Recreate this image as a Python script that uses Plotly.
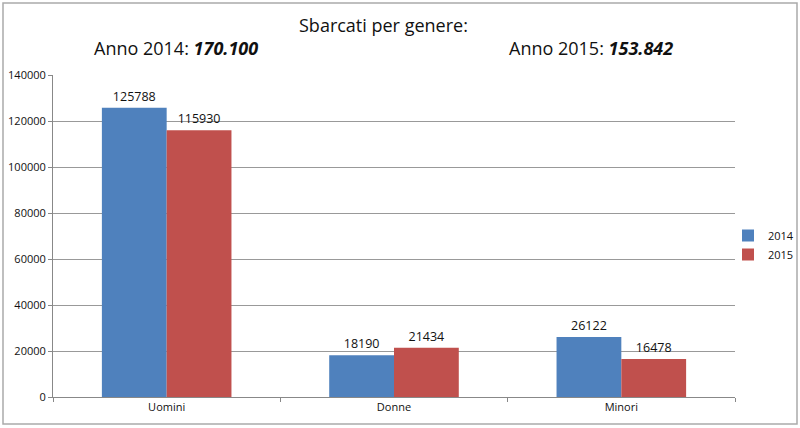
import plotly.graph_objects as go

categorie = ["Uomini", "Donne", "Minori"]
anni = ["2014", "2015"]
val_2014 = [125788, 18190, 26122]
val_2015 = [115930, 21434, 16478]
colori = ["#4F81BD", "#C0504D"]
y_ticks = [0, 20000, 40000, 60000, 80000, 100000, 120000, 140000]

fnt = "Open Sans, Noto Sans, sans-serif"

# plot area in pixels
L, R, T, B = 53, 65, 75, 31
W, H = 800, 428
pw, ph = W - L - R, H - T - B


def px(x):
    return (x - L) / pw


def py(y):
    return (H - B - y) / ph


fig = go.Figure()
for anno, vals, col in zip(anni, [val_2014, val_2015], colori):
    fig.add_trace(go.Bar(
        x=categorie, y=vals, name=anno,
        marker=dict(color=col, line=dict(width=0)),
        text=[str(v) for v in vals], textposition="outside",
        textfont=dict(size=12.5, color="#111"),
        cliponaxis=False,
    ))

titoli = [
    ("Sbarcati per genere:", 383, 25),
    ("Anno 2014: <b><i>170.100</i></b>", 176, 48),
    ("Anno 2015: <b><i>153.842</i></b>", 591, 48),
]

fig.update_layout(
    width=W, height=H,
    margin=dict(l=L, r=R, t=T, b=B, autoexpand=False),
    paper_bgcolor="white", plot_bgcolor="white",
    font=dict(family=fnt, color="#111"),
    barmode="group", bargap=0.43, bargroupgap=0,
    legend=dict(x=px(728), y=py(245), xanchor="left", yanchor="middle",
                bgcolor="rgba(0,0,0,0)",
                font=dict(size=11), itemwidth=30, tracegroupgap=4),
    xaxis=dict(showline=True, linecolor="#888", ticks="outside",
               tickson="boundaries", ticklen=4, tickcolor="#888",
               tickfont=dict(size=11), automargin=False),
    yaxis=dict(range=[0, 140000], tickvals=y_ticks, tickformat="d",
               showgrid=True, gridcolor="#999", showline=True,
               linecolor="#888", ticks="outside", ticklen=4,
               tickcolor="#888", tickfont=dict(size=11), zeroline=False,
               automargin=False),
    annotations=[
        dict(text=t, x=px(x), y=py(y), xref="paper", yref="paper",
             xanchor="center", yanchor="middle", showarrow=False,
             font=dict(size=18))
        for t, x, y in titoli
    ],
)

fig.add_shape(type="rect", xref="paper", yref="paper",
              x0=px(3), x1=px(797), y0=py(424), y1=py(3),
              line=dict(color="#aaa", width=1.5))

# drop the default page margin so the figure sits at the top-left corner
fig.write_html("out.html", config={"displayModeBar": False},
               post_script="document.body.style.margin='0';")
